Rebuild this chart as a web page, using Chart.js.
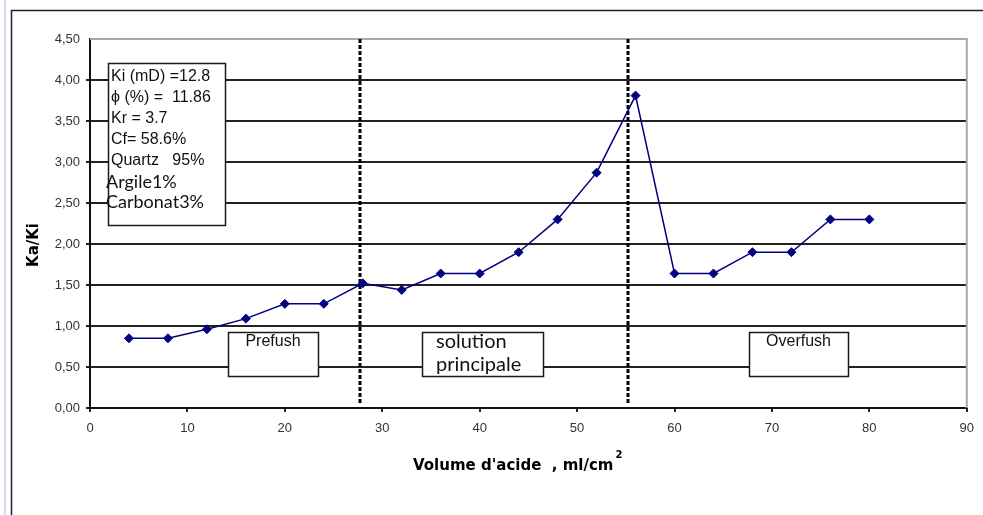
<!DOCTYPE html>
<html>
<head>
<meta charset="utf-8">
<script src="https://cdn.jsdelivr.net/npm/chart.js@4.4.1/dist/chart.umd.min.js"></script>
<style>
  html, body { margin: 0; padding: 0; background: #fff; }
  canvas { display: block; }
</style>
</head>
<body>
<canvas id="kaChart" width="983" height="515"></canvas>
<script>
// --- Data ---
const volume = [4, 8, 12, 16, 20, 24, 28, 32, 36, 40, 44, 48, 52, 56, 60, 64, 68, 72, 76, 80];
const kaKi = [0.85, 0.85, 0.96, 1.09, 1.27, 1.27, 1.52, 1.44, 1.64, 1.64, 1.90, 2.30, 2.87, 3.81, 1.64, 1.64, 1.90, 1.90, 2.30, 2.30];

// stage boundaries (volume, ml/cm2)
const stageLimits = [27.7, 55.2];
const stageNames = [['Prefush'], ['solution', 'principale'], ['Overfush']];

const rockProps = ['Ki (mD) =12.8', '\u03D5 (%) =  11.86', 'Kr = 3.7', 'Cf= 58.6%', 'Quartz   95%'];
const rockMinerals = ['Argile1%', 'Carbonat3%'];

const yTitle = 'Ka/Ki';
const xTitle = "Volume d'acide  , ml/cm";

const GRID = '#222';
const SERIES = '#000080';

// --- Decorations: frame, stage lines, text boxes, axis titles ---
const decor = {
    id: 'decor',
    beforeDraw(chart) {
        const ctx = chart.ctx;
        ctx.save();
        ctx.fillStyle = '#fff';
        ctx.fillRect(0, 0, chart.width, chart.height);
        // faint window edge
        ctx.strokeStyle = '#d3dbef';
        ctx.lineWidth = 2;
        ctx.beginPath();
        ctx.moveTo(5, 0);
        ctx.lineTo(5, chart.height);
        ctx.stroke();
        // outer frame
        ctx.strokeStyle = '#222';
        ctx.lineWidth = 1.5;
        ctx.strokeRect(11.5, 10.5, 1000, 600);
        ctx.restore();
    },
    beforeDatasetsDraw(chart) {
        const ctx = chart.ctx;
        const a = chart.chartArea;
        const xs = chart.scales.x;
        const ys = chart.scales.y;
        ctx.save();

        // top and right plot border
        ctx.strokeStyle = '#a8a8a8';
        ctx.lineWidth = 2;
        ctx.beginPath();
        ctx.moveTo(a.left, a.top);
        ctx.lineTo(a.right, a.top);
        ctx.lineTo(a.right, a.bottom);
        ctx.stroke();

        // stage boundaries
        ctx.strokeStyle = '#000';
        ctx.lineWidth = 3;
        ctx.setLineDash([4, 2]);
        stageLimits.forEach(v => {
            const px = Math.round(xs.getPixelForValue(v));
            ctx.beginPath();
            ctx.moveTo(px, a.top);
            ctx.lineTo(px, a.bottom - 4);
            ctx.stroke();
        });
        ctx.setLineDash([]);

        // rock properties box
        ctx.fillStyle = '#fff';
        ctx.strokeStyle = '#1a1a1a';
        ctx.lineWidth = 1.5;
        ctx.fillRect(108, 63, 117, 162);
        ctx.strokeRect(108.5, 63.5, 117, 162);
        ctx.fillStyle = '#111';
        ctx.textBaseline = 'middle';
        ctx.textAlign = 'left';
        ctx.font = '16px "Liberation Sans", Arial, sans-serif';
        rockProps.forEach((t, i) => ctx.fillText(t, 111, 77 + i * 21));
        ctx.font = '18px Lato, sans-serif';
        rockMinerals.forEach((t, i) => ctx.fillText(t, 106, 182 + i * 20));

        // stage label boxes
        const boxes = [
            { x: 228, w: 90, font: '16px "Liberation Sans", Arial, sans-serif', align: 'center' },
            { x: 422, w: 121, font: '20px Lato, sans-serif', align: 'left' },
            { x: 749, w: 99, font: '16px "Liberation Sans", Arial, sans-serif', align: 'center' }
        ];
        const boxTop = ys.getPixelForValue(0.93);
        const boxBottom = ys.getPixelForValue(0.39);
        boxes.forEach((b, i) => {
            ctx.fillStyle = '#fff';
            ctx.fillRect(b.x, boxTop, b.w, boxBottom - boxTop);
            ctx.strokeStyle = '#1a1a1a';
            ctx.lineWidth = 1.5;
            ctx.strokeRect(b.x + 0.5, Math.round(boxTop) + 0.5, b.w, Math.round(boxBottom - boxTop));
            ctx.fillStyle = '#111';
            ctx.font = b.font;
            ctx.textAlign = b.align;
            const tx = b.align === 'center' ? b.x + b.w / 2 : b.x + 14;
            stageNames[i].forEach((t, j) => ctx.fillText(t, tx, boxTop + 10 + j * 23));
        });

        // axis titles
        ctx.fillStyle = '#000';
        ctx.font = 'bold 15px "DejaVu Sans", sans-serif';
        ctx.textAlign = 'center';
        ctx.save();
        ctx.translate(34, 245);
        ctx.rotate(-Math.PI / 2);
        ctx.fillText(yTitle, 0, 0);
        ctx.restore();

        ctx.textAlign = 'left';
        const w = ctx.measureText(xTitle).width;
        const x0 = 413;
        ctx.fillText(xTitle, x0, 466);
        ctx.font = 'bold 10px "DejaVu Sans", sans-serif';
        ctx.fillText('2', x0 + w + 2, 455);

        ctx.restore();
    }
};

const ctx = document.getElementById('kaChart');

new Chart(ctx, {
    type: 'scatter',
    data: {
        datasets: [{
            data: volume.map((v, i) => ({ x: v, y: kaKi[i] })),
            showLine: true,
            borderColor: SERIES,
            backgroundColor: SERIES,
            borderWidth: 1.5,
            pointStyle: 'rectRot',
            pointRadius: 4.5,
            pointBorderWidth: 1
        }]
    },
    options: {
        responsive: false,
        animation: false,
        devicePixelRatio: 1,
        layout: { padding: { left: 0, top: 39, right: 16, bottom: 0 } },
        plugins: {
            legend: { display: false },
            tooltip: { enabled: false }
        },
        scales: {
            x: {
                type: 'linear',
                min: 0,
                max: 90,
                afterFit: s => { s.height = 107; },
                ticks: {
                    stepSize: 10,
                    padding: 9,
                    color: '#333',
                    font: { family: '"Liberation Sans", Arial, sans-serif', size: 13 }
                },
                grid: {
                    drawOnChartArea: false,
                    drawTicks: true,
                    tickLength: 4,
                    color: GRID,
                    lineWidth: 2
                },
                border: { color: '#111', width: 2 }
            },
            y: {
                min: 0,
                max: 4.5,
                afterFit: s => { s.width = 90; },
                ticks: {
                    stepSize: 0.5,
                    padding: 6,
                    color: '#333',
                    font: { family: '"Liberation Sans", Arial, sans-serif', size: 13 },
                    callback: v => v.toFixed(2).replace('.', ',')
                },
                grid: {
                    tickLength: 4,
                    lineWidth: 2,
                    color: c => (c.tick && c.tick.value === 4.5) ? 'rgba(0,0,0,0)' : GRID
                },
                border: { color: '#111', width: 2 }
            }
        }
    },
    plugins: [decor]
});
</script>
</body>
</html>
